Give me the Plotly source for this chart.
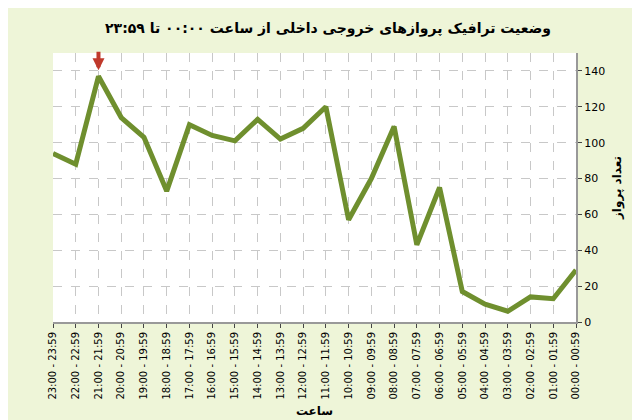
import plotly.graph_objects as go

# hours in display order (left to right)
hours = ['23:00 - 23:59', '22:00 - 22:59', '21:00 - 21:59', '20:00 - 20:59', '19:00 - 19:59',
         '18:00 - 18:59', '17:00 - 17:59', '16:00 - 16:59', '15:00 - 15:59', '14:00 - 14:59',
         '13:00 - 13:59', '12:00 - 12:59', '11:00 - 11:59', '10:00 - 10:59', '09:00 - 09:59',
         '08:00 - 08:59', '07:00 - 07:59', '06:00 - 06:59', '05:00 - 05:59', '04:00 - 04:59',
         '03:00 - 03:59', '02:00 - 02:59', '01:00 - 01:59', '00:00 - 00:59']
flights = [94, 88, 137, 114, 103, 73, 110, 104, 101, 113, 102, 108, 120, 57, 80,
           109, 43, 75, 17, 10, 6, 14, 13, 29]
peak_hour = '21:00 - 21:59'
peak_value = 137

fig = go.Figure()
fig.add_trace(go.Scatter(
    x=hours, y=flights, mode='lines',
    line=dict(color='#6f8f2e', width=5, shape='linear'),
    showlegend=False
))

fig.add_annotation(
    x=peak_hour, y=peak_value, ax=0, ay=-20, yshift=6,
    showarrow=True, arrowhead=2, arrowsize=0.6, arrowwidth=4, arrowcolor='#c0392b', text=''
)

fig.update_layout(
    width=640, height=420,
    margin=dict(l=45, r=72, t=45, b=97),
    paper_bgcolor='#eef5d8',
    plot_bgcolor='white',
    title=dict(text='<b>وضعیت ترافیک پروازهای خروجی داخلی از ساعت ۰۰:۰۰ تا ۲۳:۵۹</b>',
               x=0.5, y=0.965, xanchor='center', font=dict(size=14, family='DejaVu Sans', color='black')),
    font=dict(family='DejaVu Sans', color='black'),
    xaxis=dict(categoryorder='array', categoryarray=hours, tickangle=-90,
               tickfont=dict(size=10), showgrid=True, gridcolor='#c8c8c8', griddash='dash',
               showline=True, linecolor='#999', linewidth=2, ticks='outside', ticklen=4,
               title=dict(text='<b>ساعت</b>', font=dict(size=12), standoff=8)),
    yaxis=dict(side='right', range=[0, 150], dtick=20, tickfont=dict(size=11),
               showgrid=True, gridcolor='#c8c8c8', griddash='dash', zeroline=False,
               showline=True, linecolor='#999', linewidth=2, ticks='outside', ticklen=4,
               title=dict(text='<b>تعداد پرواز</b>', font=dict(size=12), standoff=8)),
)

fig.write_html("out.html")
